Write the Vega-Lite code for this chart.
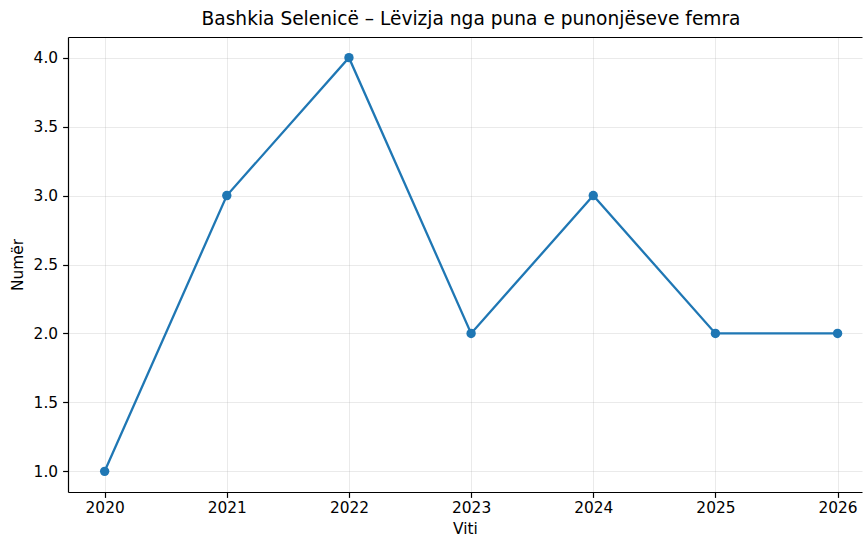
{
  "$schema": "https://vega.github.io/schema/vega-lite/v6.json",
  "autosize": {"type": "none"},
  "padding": {"left": 68, "top": 37, "right": 1, "bottom": 46},
  "width": 794,
  "height": 455,
  "background": "white",
  "title": {
    "text": "Bashkia Selenicë – Lëvizja nga puna e punonjëseve femra",
    "font": "DejaVu Sans",
    "fontSize": 18.6,
    "fontWeight": "normal",
    "color": "#000000",
    "anchor": "middle",
    "dx": 6,
    "offset": 8
  },
  "config": {
    "view": {"stroke": null},
    "axis": {
      "labelFont": "DejaVu Sans",
      "labelFontSize": 15.4,
      "labelColor": "#000000",
      "titleFont": "DejaVu Sans",
      "titleFontSize": 15.4,
      "titleFontWeight": "normal",
      "titleColor": "#000000",
      "domainColor": "#000000",
      "domainWidth": 1.2,
      "tickColor": "#000000",
      "tickWidth": 1.2,
      "tickSize": 5.4,
      "labelPadding": 4,
      "gridColor": "#b0b0b0",
      "gridOpacity": 0.3,
      "gridWidth": 0.9
    }
  },
  "data": {
    "values": [
      {"Viti": 2020, "Numer": 1},
      {"Viti": 2021, "Numer": 3},
      {"Viti": 2022, "Numer": 4},
      {"Viti": 2023, "Numer": 2},
      {"Viti": 2024, "Numer": 3},
      {"Viti": 2025, "Numer": 2},
      {"Viti": 2026, "Numer": 2}
    ]
  },
  "encoding": {
    "x": {
      "field": "Viti",
      "type": "quantitative",
      "scale": {"domain": [2019.7, 2026.2], "zero": false, "nice": false},
      "title": "Viti"
    },
    "y": {
      "field": "Numer",
      "type": "quantitative",
      "scale": {"domain": [0.85, 4.15], "zero": false, "nice": false},
      "axis": {
        "values": [1, 1.5, 2, 2.5, 3, 3.5, 4],
        "format": ".1f",
        "title": "Numër",
        "labelPadding": 5,
        "titlePadding": 8
      }
    }
  },
  "layer": [
    {
      "mark": {"type": "line", "color": "#1f77b4", "strokeWidth": 2.3, "clip": true},
      "encoding": {
        "x": {
          "field": "Viti",
          "type": "quantitative",
          "scale": {"domain": [2019.7, 2026.2], "zero": false, "nice": false},
          "axis": {
            "values": [2020, 2021, 2022, 2023, 2024, 2025, 2026],
            "format": "d",
            "title": "Viti",
            "labelPadding": 3,
            "titlePadding": 6
          }
        }
      }
    },
    {
      "mark": {"type": "point", "filled": true, "color": "#1f77b4", "opacity": 1, "size": 88, "clip": true},
      "encoding": {
        "x": {
          "field": "Viti",
          "type": "quantitative",
          "scale": {"domain": [2019.7, 2026.2], "zero": false, "nice": false},
          "axis": {
            "orient": "top",
            "labels": false,
            "ticks": false,
            "grid": false,
            "title": null,
            "domain": true
          }
        }
      }
    }
  ],
  "resolve": {"axis": {"x": "independent"}}
}
